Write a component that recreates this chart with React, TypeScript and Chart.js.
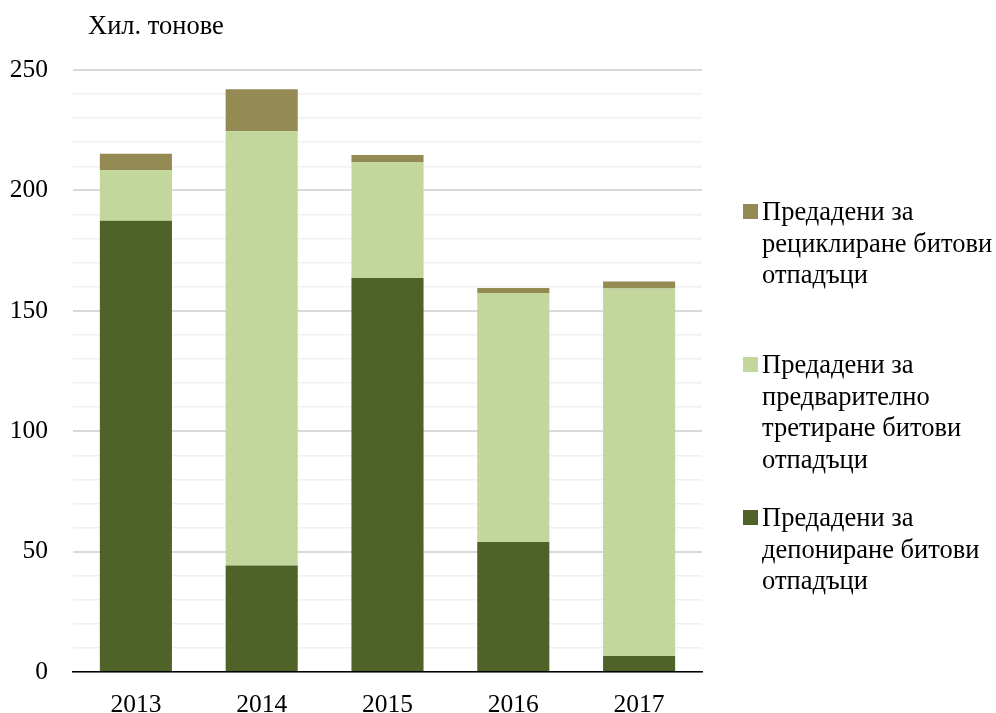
import React, { useEffect, useRef } from "react";
import { Chart, registerables } from "chart.js";

Chart.register(...registerables);

const years = ["2013", "2014", "2015", "2016", "2017"];
const landfilled = [187.4, 44.2, 163.6, 54.0, 6.6];
const pretreated = [21.1, 180.4, 48.2, 103.4, 152.7];
const recycled = [6.7, 17.4, 2.9, 2.1, 2.9];
const yMax = 250;
const yMajorStep = 50;
const yMinorStep = 10;
const unitLabel = "Хил. тонове";

const recycledLines = ["Предадени за", "рециклиране битови", "отпадъци"];
const pretreatedLines = ["Предадени за", "предварително", "третиране битови", "отпадъци"];
const landfilledLines = ["Предадени за", "депониране битови", "отпадъци"];

const colorDark = "#4f6228";
const colorLight = "#c3d69b";
const colorBrown = "#948a54";

const FONT = "'Liberation Serif', 'Times New Roman', serif";

const legendItems = [
  { lines: recycledLines, color: colorBrown },
  { lines: pretreatedLines, color: colorLight },
  { lines: landfilledLines, color: colorDark },
];

export default function App() {
  const canvasRef = useRef<HTMLCanvasElement | null>(null);

  useEffect(() => {
    if (!canvasRef.current) return;
    const chart = new Chart(canvasRef.current, {
      type: "bar",
      data: {
        labels: years,
        datasets: [
          {
            label: landfilledLines.join(" "),
            data: landfilled,
            backgroundColor: colorDark,
            borderWidth: 0,
          },
          {
            label: pretreatedLines.join(" "),
            data: pretreated,
            backgroundColor: colorLight,
            borderWidth: 0,
          },
          {
            label: recycledLines.join(" "),
            data: recycled,
            backgroundColor: colorBrown,
            borderWidth: 0,
          },
        ],
      },
      options: {
        animation: false,
        responsive: true,
        maintainAspectRatio: false,
        layout: { padding: { top: 70, right: 294, bottom: 0, left: 0 } },
        datasets: {
          bar: { categoryPercentage: 1, barPercentage: 0.573 },
        },
        plugins: {
          legend: { display: false },
          title: { display: false },
          tooltip: { enabled: false },
        },
        scales: {
          x: {
            stacked: true,
            afterFit: (s: any) => {
              s.height = 41;
            },
            grid: { display: false, drawTicks: false },
            border: { display: true, color: "#000", width: 1.5 },
            ticks: {
              color: "#000",
              padding: 18,
              font: { family: FONT, size: 25.5 },
            },
          },
          y: {
            stacked: true,
            min: 0,
            max: yMax,
            afterFit: (s: any) => {
              s.width = 73;
            },
            border: { display: false },
            grid: {
              drawTicks: false,
              color: (ctx: any) =>
                ctx.tick && ctx.tick.value % yMajorStep === 0 ? "#d9d9d9" : "#f0f0f0",
              lineWidth: (ctx: any) =>
                ctx.tick && ctx.tick.value % yMajorStep === 0 ? 2 : 1.5,
            },
            ticks: {
              stepSize: yMinorStep,
              autoSkip: false,
              color: "#000",
              padding: 25,
              font: { family: FONT, size: 25.5 },
              callback: (v: any) => (Number(v) % yMajorStep === 0 ? String(v) : ""),
            },
          },
        },
      },
    });
    return () => chart.destroy();
  }, []);

  return (
    <div
      style={{
        position: "absolute",
        left: 0,
        top: 0,
        width: 996,
        height: 713,
        background: "#fff",
        fontFamily: FONT,
        color: "#000",
      }}
    >
      <canvas ref={canvasRef} />
      <div
        style={{
          position: "absolute",
          left: 88,
          top: 10,
          fontSize: 26.5,
          lineHeight: "30px",
          whiteSpace: "nowrap",
        }}
      >
        {unitLabel}
      </div>
      {legendItems.map((item, i) => (
        <div
          key={i}
          style={{
            position: "absolute",
            left: 743,
            top: 196 + i * 153,
            display: "flex",
            alignItems: "flex-start",
          }}
        >
          <div
            style={{
              width: 15,
              height: 15,
              marginTop: 8,
              background: item.color,
              flex: "none",
            }}
          />
          <div
            style={{
              marginLeft: 4,
              fontSize: 26.5,
              lineHeight: "31.5px",
              whiteSpace: "nowrap",
            }}
          >
            {item.lines.map((l, j) => (
              <div key={j}>{l}</div>
            ))}
          </div>
        </div>
      ))}
    </div>
  );
}
